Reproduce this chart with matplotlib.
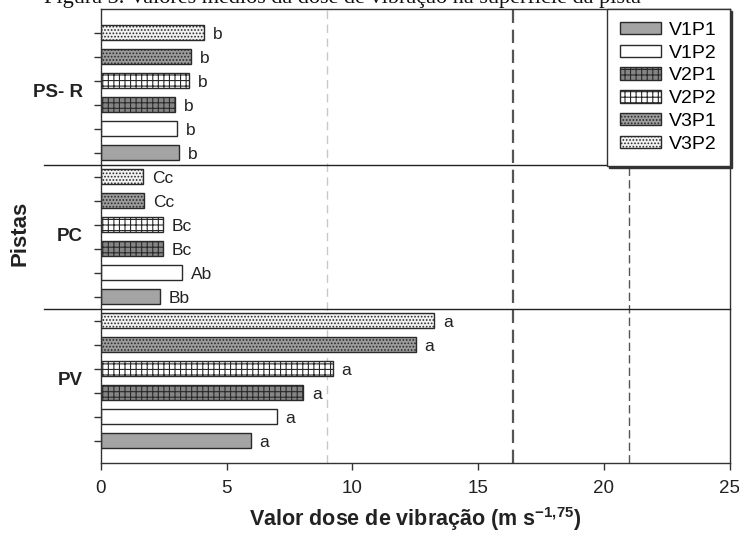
import numpy as np
import matplotlib.pyplot as plt
from matplotlib.patches import Patch

plt.rcParams['font.family'] = ['Liberation Sans', 'DejaVu Sans']
plt.rcParams['hatch.linewidth'] = 0.8

pistas = ['PV', 'PC', 'PS- R']
series = ['V1P1', 'V1P2', 'V2P1', 'V2P2', 'V3P1', 'V3P2']

# valores dose de vibracao, por pista (PV, PC, PS-R)
v1p1 = [5.96, 2.36, 3.12]
v1p2 = [7.0, 3.24, 3.03]
v2p1 = [8.04, 2.46, 2.94]
v2p2 = [9.22, 2.46, 3.52]
v3p1 = [12.52, 1.72, 3.58]
v3p2 = [13.26, 1.69, 4.10]
values = [v1p1, v1p2, v2p1, v2p2, v3p1, v3p2]

letras = [
    ['a', 'a', 'a', 'a', 'a', 'a'],
    ['Bb', 'Ab', 'Bc', 'Bc', 'Cc', 'Cc'],
    ['b', 'b', 'b', 'b', 'b', 'b'],
]

limites = [9.0, 16.4, 21.0]

styles = [
    dict(color='#a4a4a4', hatch=''),
    dict(color='white', hatch=''),
    dict(color='#858585', hatch='+++'),
    dict(color='white', hatch='+++'),
    dict(color='#9c9c9c', hatch='.....'),
    dict(color='#f2f2f2', hatch='.....'),
]

fig = plt.figure(figsize=(7.39, 5.33), dpi=100)
ax = fig.add_axes([0.1363, 0.1304, 0.8511, 0.8526])

ax.axvline(limites[0], color='#c8c8c8', lw=1, ls=(0, (6, 4)), zorder=0)
ax.axvline(limites[1], color='#555555', lw=1.6, ls=(0, (6, 3)), zorder=0)
ax.axvline(limites[2], color='#555555', lw=1.0, ls=(0, (6, 3)), zorder=0)

yticks = []
for g, pista in enumerate(pistas):
    for s in range(len(series)):
        y = g * 6 + s + 1
        yticks.append(y)
        v = values[s][g]
        ax.barh(y, v, height=0.6, color=styles[s]['color'], hatch=styles[s]['hatch'],
                edgecolor='#2a2a2a', linewidth=1.0, zorder=2)
        ax.text(v + 0.35, y - 0.08, letras[g][s], va='center', ha='left', fontsize=12.5, color='#222222')
    ax.text(-0.028, (g * 6 + 3.5 - 0.05) / 18.93, pista, transform=ax.transAxes,
            ha='right', va='center', fontsize=13.5, fontweight='bold', color='#222222')

for ysep in [6.5, 12.5]:
    ax.plot([-0.09, 1.0], [ysep, ysep], color='#222222', lw=1.0,
            transform=ax.get_yaxis_transform(), clip_on=False, zorder=3)

ax.set_xlim(0, 25)
ax.set_ylim(0.05, 18.98)
ax.set_xticks([0, 5, 10, 15, 20, 25])
ax.set_yticks(yticks)
ax.set_yticklabels([])
ax.tick_params(axis='both', direction='out', length=5, width=1, color='#333333')
ax.tick_params(axis='x', labelsize=13.5, pad=7, labelcolor='#222222')
for sp in ax.spines.values():
    sp.set_color('#333333')
    sp.set_linewidth(1.0)

ax.set_xlabel('Valor dose de vibração (m s$^{\\mathregular{-1{,}75}}$)', fontsize=15.5,
              fontweight='bold', labelpad=6, color='#222222')
fig.text(0.027, 0.563, 'Pistas', rotation=90, ha='center', va='center', fontsize=16,
         fontweight='bold', color='#222222')

handles = [Patch(facecolor=st['color'], hatch=st['hatch'], edgecolor='#2a2a2a', lw=1.0)
           for st in styles]
leg = ax.legend(handles, series, loc='upper right', bbox_to_anchor=(1.0, 1.0),
                borderaxespad=0, fontsize=14, frameon=True, fancybox=False,
                handlelength=2.1, handleheight=0.6, handletextpad=0.45,
                labelspacing=0.3, borderpad=0.65,
                shadow={'ox': 1.5, 'oy': -1.5, 'color': '#333333', 'alpha': 1})
leg.get_frame().set_edgecolor('#333333')
leg.get_frame().set_linewidth(1.0)
leg.set_zorder(5)

fig.text(0.06, 1 - 2.5 / 533, 'Figura 3. Valores médios da dose de vibração na superfície da pista',
         family='Liberation Serif', fontsize=16, ha='left', va='baseline', color='#111111')

fig.savefig('out.png', dpi=100)
